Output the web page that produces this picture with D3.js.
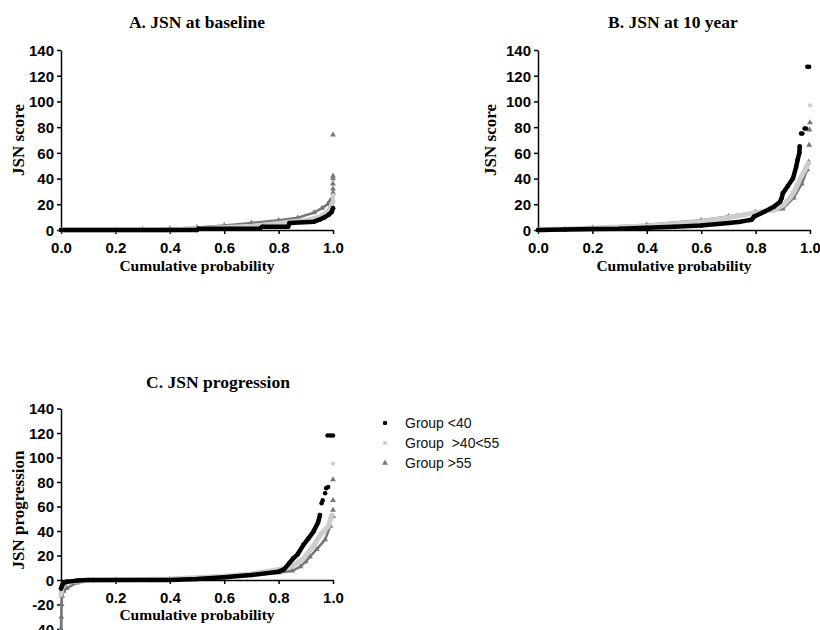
<!DOCTYPE html>
<html>
<head>
<meta charset="utf-8">
<script src="https://cdn.jsdelivr.net/npm/d3@7"></script>
<style>
body { margin: 0; background: #fff; }
.tick text { font-family: "Liberation Sans", Arial, sans-serif; font-weight: bold; font-size: 15px; fill: #000; }
.ttl { font-family: "Liberation Serif", "Times New Roman", serif; font-weight: bold; fill: #000; }
.leg { font-family: "Liberation Sans", Arial, sans-serif; font-size: 14px; fill: #111; white-space: pre; }
</style>
</head>
<body>
<svg id="chart" width="820" height="630"></svg>
<script>
////////// DATA //////////

const groups = ["Group <40", "Group  >40<55", "Group >55"];
const groupColors = ["#000000", "#cdcdcd", "#777777"];

const probTicks = [0, 0.2, 0.4, 0.6, 0.8, 1.0];
const scoreTicks = [0, 20, 40, 60, 80, 100, 120, 140];
const progTicks = [-40, -20, 0, 20, 40, 60, 80, 100, 120, 140];

// [cumulative probability, score]
const baseYoung = [[0,0],[0.5,0],[0.505,1],[0.73,1],[0.74,2.5],[0.835,2.5],[0.84,5.5],[0.93,6.5],[0.95,8],[0.97,10],[0.985,12],[0.995,14],[1.0,17]];
const baseMid = [[0,0],[0.4,0],[0.5,1],[0.6,2],[0.7,3],[0.8,5],[0.9,7.5],[0.95,10],[0.98,14],[0.99,17],[1.0,22]];
const baseOld = [[0,0],[0.2,0],[0.3,0.5],[0.4,1],[0.5,2],[0.6,3.5],[0.7,5.5],[0.8,7.5],[0.87,9.5],[0.93,13.5],[0.96,17],[0.98,20],[0.99,23]];
const baseYoungTop = [];
const baseMidTop = [[1,25],[1,27]];
const baseOldTop = [[1,29],[1,32],[1,36],[1,40],[1,42],[1,74]];

const tenYoung = [[0,0],[0.1,0.3],[0.2,0.7],[0.3,1],[0.4,1.8],[0.5,2.5],[0.6,3.5],[0.7,5.5],[0.745,6.5],[0.785,8],[0.795,10.5],[0.83,14],[0.867,18],[0.89,22],[0.896,25],[0.9,28.5],[0.918,34],[0.937,40],[0.949,49],[0.955,55],[0.961,60],[0.962,65]];
const tenMid = [[0,0],[0.2,1.5],[0.4,3.2],[0.6,6.5],[0.7,9.5],[0.8,13.5],[0.83,14.5],[0.867,15.5],[0.903,19.5],[0.927,25],[0.945,31],[0.964,40],[0.982,47],[0.994,52]];
const tenOld = [[0,0],[0.2,1.8],[0.4,4],[0.6,7.5],[0.7,10.5],[0.8,14],[0.85,14.5],[0.9,16.5],[0.94,25],[0.97,36],[0.99,47]];
const tenYoungTop = [[0.967,75],[0.972,75],[0.98,79],[0.985,79],[0.99,127],[0.997,127]];
const tenMidTop = [[1,97]];
const tenOldTop = [[0.995,53],[0.997,66],[0.998,78],[1,83.5]];

const progYoung = [[0,-7],[0.005,-4],[0.01,-2.5],[0.02,-1.5],[0.06,-0.5],[0.1,0],[0.4,0],[0.5,0.8],[0.6,2.2],[0.7,4],[0.8,6.8],[0.82,8.7],[0.84,14],[0.854,17.7],[0.87,21],[0.891,28.6],[0.91,34],[0.928,39.5],[0.945,47],[0.952,53]];
const progMid = [[0,-12],[0.003,-6],[0.01,-3],[0.03,-1.5],[0.1,-0.3],[0.2,0],[0.4,0.8],[0.6,3],[0.7,5],[0.8,8.5],[0.82,9.2],[0.854,12],[0.891,17.5],[0.928,28],[0.958,38],[0.983,44],[0.995,53]];
const progOld = [[0,-40],[0.001,-30],[0.002,-20],[0.004,-13],[0.01,-9],[0.02,-6.8],[0.058,-2.2],[0.12,-0.5],[0.2,0],[0.4,0.5],[0.6,2.5],[0.7,4],[0.8,6],[0.85,7.5],[0.88,11],[0.9,15],[0.915,19],[0.94,25],[0.971,33],[0.99,44]];
const progYoungTop = [[0.958,62.6],[0.962,65],[0.971,70.8],[0.975,75],[0.982,76],[0.98,118],[0.99,118],[1.0,118]];
const progMidTop = [[1,95]];
const progOldTop = [[1,52],[1,57],[1,65],[1,82]];

////////// DRAWING //////////

const svg = d3.select("#chart");
const symbols = [d3.symbolCircle, d3.symbolSquare, d3.symbolTriangle];
const symSizes = [16, 14, 15];
const lineWidths = [4.5, 5, 2.5];

/**
 * draws one panel: axes, titles and the three groups
 */
function drawPanel(p) {
    let g = svg.append("g");
    let x = d3.scaleLinear().domain([0, 1]).range([p.left, p.right]);
    let y = d3.scaleLinear().domain(p.yDomain).range([p.bottom, p.top]);

    // axes
    g.append("g")
        .attr("transform", "translate(0," + y(0) + ")")
        .call(d3.axisBottom(x).tickValues(p.xTicks).tickFormat(d3.format(".1f"))
            .tickSize(4).tickSizeOuter(0).tickPadding(8));
    let yAxis = g.append("g")
        .attr("transform", "translate(" + p.left + ",0)")
        .call(d3.axisLeft(y).tickValues(p.yTicks).tickFormat(d => String(d))
            .tickSize(4).tickSizeOuter(0).tickPadding(3));
    g.selectAll(".domain, .tick line").attr("stroke", "#000").attr("stroke-width", 1.5);
    yAxis.selectAll(".tick text").attr("dy", "0.36em");

    // titles
    g.append("text").attr("class", "ttl")
        .attr("x", p.titleX).attr("y", p.titleY)
        .attr("text-anchor", "middle").style("font-size", "17.5px")
        .text(p.title);
    g.append("text").attr("class", "ttl")
        .attr("x", (p.left + p.right) / 2).attr("y", p.xTitleY)
        .attr("text-anchor", "middle").style("font-size", "15.5px")
        .text("Cumulative probability");
    g.append("text").attr("class", "ttl")
        .attr("transform", "translate(" + p.yTitleX + "," + p.yTitleY + ") rotate(-90)")
        .attr("text-anchor", "middle").style("font-size", "17px")
        .text(p.yTitle);

    let line = d3.line().x(d => x(d[0])).y(d => y(d[1]));

    // dark gray first, then light gray, black on top
    [2, 1, 0].forEach(function(i) {
        let body = p.series[i];
        let top = p.tops[i];
        g.append("path")
            .datum(body)
            .attr("d", line)
            .attr("fill", "none")
            .attr("stroke", groupColors[i])
            .attr("stroke-width", lineWidths[i])
            .attr("stroke-linejoin", "round")
            .attr("stroke-linecap", "round");
        g.append("g")
            .selectAll("path")
            .data(body.concat(top))
            .enter()
            .append("path")
            .attr("d", d3.symbol().type(symbols[i]).size(symSizes[i]))
            .attr("transform", d => "translate(" + x(d[0]) + "," + y(d[1]) + ")")
            .attr("fill", groupColors[i]);
    });
}

drawPanel({
    left: 61, right: 333, top: 50, bottom: 230, yDomain: [0, 140],
    xTicks: probTicks, yTicks: scoreTicks,
    title: "A. JSN at baseline", titleX: 197, titleY: 28,
    xTitleY: 271, yTitle: "JSN score", yTitleX: 24, yTitleY: 140,
    series: [baseYoung, baseMid, baseOld], tops: [baseYoungTop, baseMidTop, baseOldTop]
});

drawPanel({
    left: 538, right: 810, top: 50, bottom: 230, yDomain: [0, 140],
    xTicks: probTicks, yTicks: scoreTicks,
    title: "B. JSN at 10 year", titleX: 673, titleY: 28,
    xTitleY: 271, yTitle: "JSN score", yTitleX: 496, yTitleY: 140,
    series: [tenYoung, tenMid, tenOld], tops: [tenYoungTop, tenMidTop, tenOldTop]
});

drawPanel({
    left: 61, right: 333, top: 408.5, bottom: 629, yDomain: [-40, 140],
    xTicks: probTicks.slice(1), yTicks: progTicks,
    title: "C. JSN progression", titleX: 218, titleY: 388,
    xTitleY: 620, yTitle: "JSN progression", yTitleX: 24, yTitleY: 510,
    series: [progYoung, progMid, progOld], tops: [progYoungTop, progMidTop, progOldTop]
});

// legend
let legend = svg.append("g");
groups.forEach(function(name, i) {
    legend.append("path")
        .attr("d", d3.symbol().type(symbols[i]).size(symSizes[i]))
        .attr("transform", "translate(385," + (423 + i * 20) + ")")
        .attr("fill", groupColors[i]);
    legend.append("text").attr("class", "leg")
        .attr("x", 405).attr("y", 428 + i * 20)
        .text(name);
});
</script>
</body>
</html>
